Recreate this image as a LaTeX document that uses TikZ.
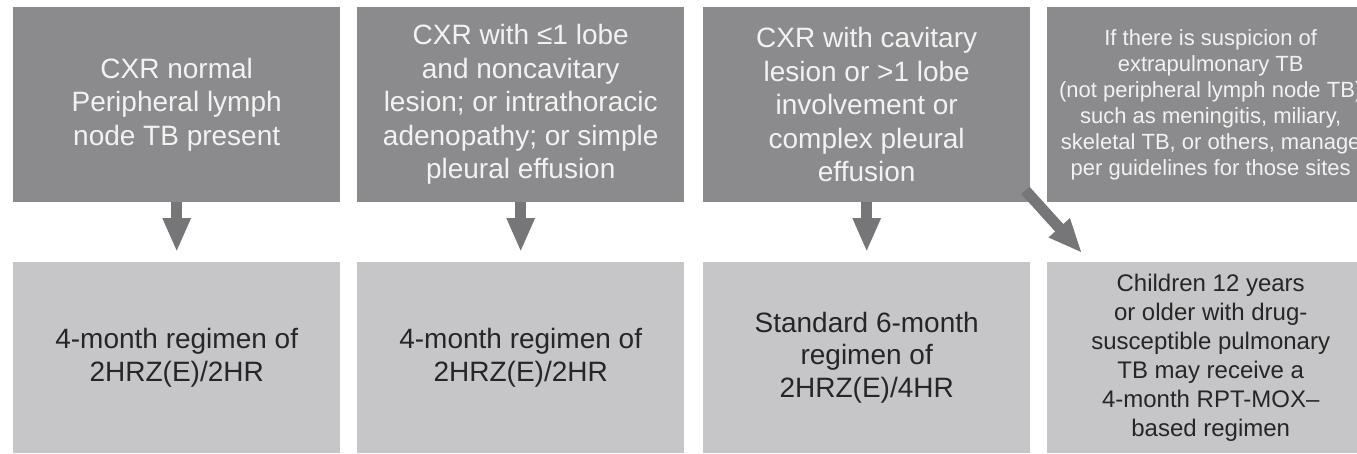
\documentclass[tikz,border=0pt]{standalone}
\usepackage{fontspec}
\setmainfont{Liberation Sans}
\usetikzlibrary{arrows.meta}

\definecolor{condgray}{RGB}{139,139,141}
\definecolor{reggray}{RGB}{198,198,200}
\definecolor{arrowgray}{RGB}{118,118,120}

\begin{document}
\begin{tikzpicture}[x=1pt,y=1pt,
  cond/.style={anchor=north west, fill=condgray, text=white!95!black,
    minimum width=327pt, minimum height=195pt, inner sep=0pt, align=center,
    font=\fontsize{28}{33.5}\selectfont},
  regimen/.style={anchor=north west, fill=reggray, text=black!85,
    minimum width=327pt, minimum height=191pt, inner sep=0pt, align=center,
    font=\fontsize{28}{33.5}\selectfont},
  flow/.style={draw=arrowgray, line width=11pt,
    -{Triangle[width=26pt,length=34pt]}}]

\clip (0,0) rectangle (1357,-453);
\fill [white] (0,0) rectangle (1357,-453);

% first row: CXR findings
\node [cond] (normal) at (13,-7) {CXR normal\\Peripheral lymph\\node TB present};
\node [cond] (limited) at (357,-7) {CXR with ≤1 lobe\\and noncavitary\\lesion; or intrathoracic\\adenopathy; or simple\\pleural effusion};
\node [cond] (severe) at (703,-7) {CXR with cavitary\\lesion or >1 lobe\\involvement or\\complex pleural\\effusion};
\node [cond, font=\fontsize{22}{26}\selectfont] (extra) at (1047,-7) {If there is suspicion of\\extrapulmonary TB\\(not peripheral lymph node TB)\\such as meningitis, miliary,\\skeletal TB, or others, manage\\per guidelines for those sites};

% second row: regimens
\node [regimen] (shortA) at (13,-262) {4-month regimen of\\2HRZ(E)/2HR};
\node [regimen] (shortB) at (357,-262) {4-month regimen of\\2HRZ(E)/2HR};
\node [regimen, font=\fontsize{28}{32.5}\selectfont] (standard) at (703,-262) {Standard 6-month\\regimen of\\2HRZ(E)/4HR};
\node [regimen, font=\fontsize{24}{29}\selectfont] (rptmox) at (1047,-262) {Children 12 years\\or older with drug-\\susceptible pulmonary\\TB may receive a\\4-month RPT-MOX–\\based regimen};

\draw [flow, shorten >=10pt] (normal.south) -- (shortA.north);
\draw [flow, shorten >=10pt] (limited.south) -- (shortB.north);
\draw [flow, shorten >=10pt] (severe.south) -- (standard.north);
\draw [flow] ([shift={(-5,12)}]severe.south east) -- ([shift={(35,9)}]rptmox.north west);

\end{tikzpicture}
\end{document}
